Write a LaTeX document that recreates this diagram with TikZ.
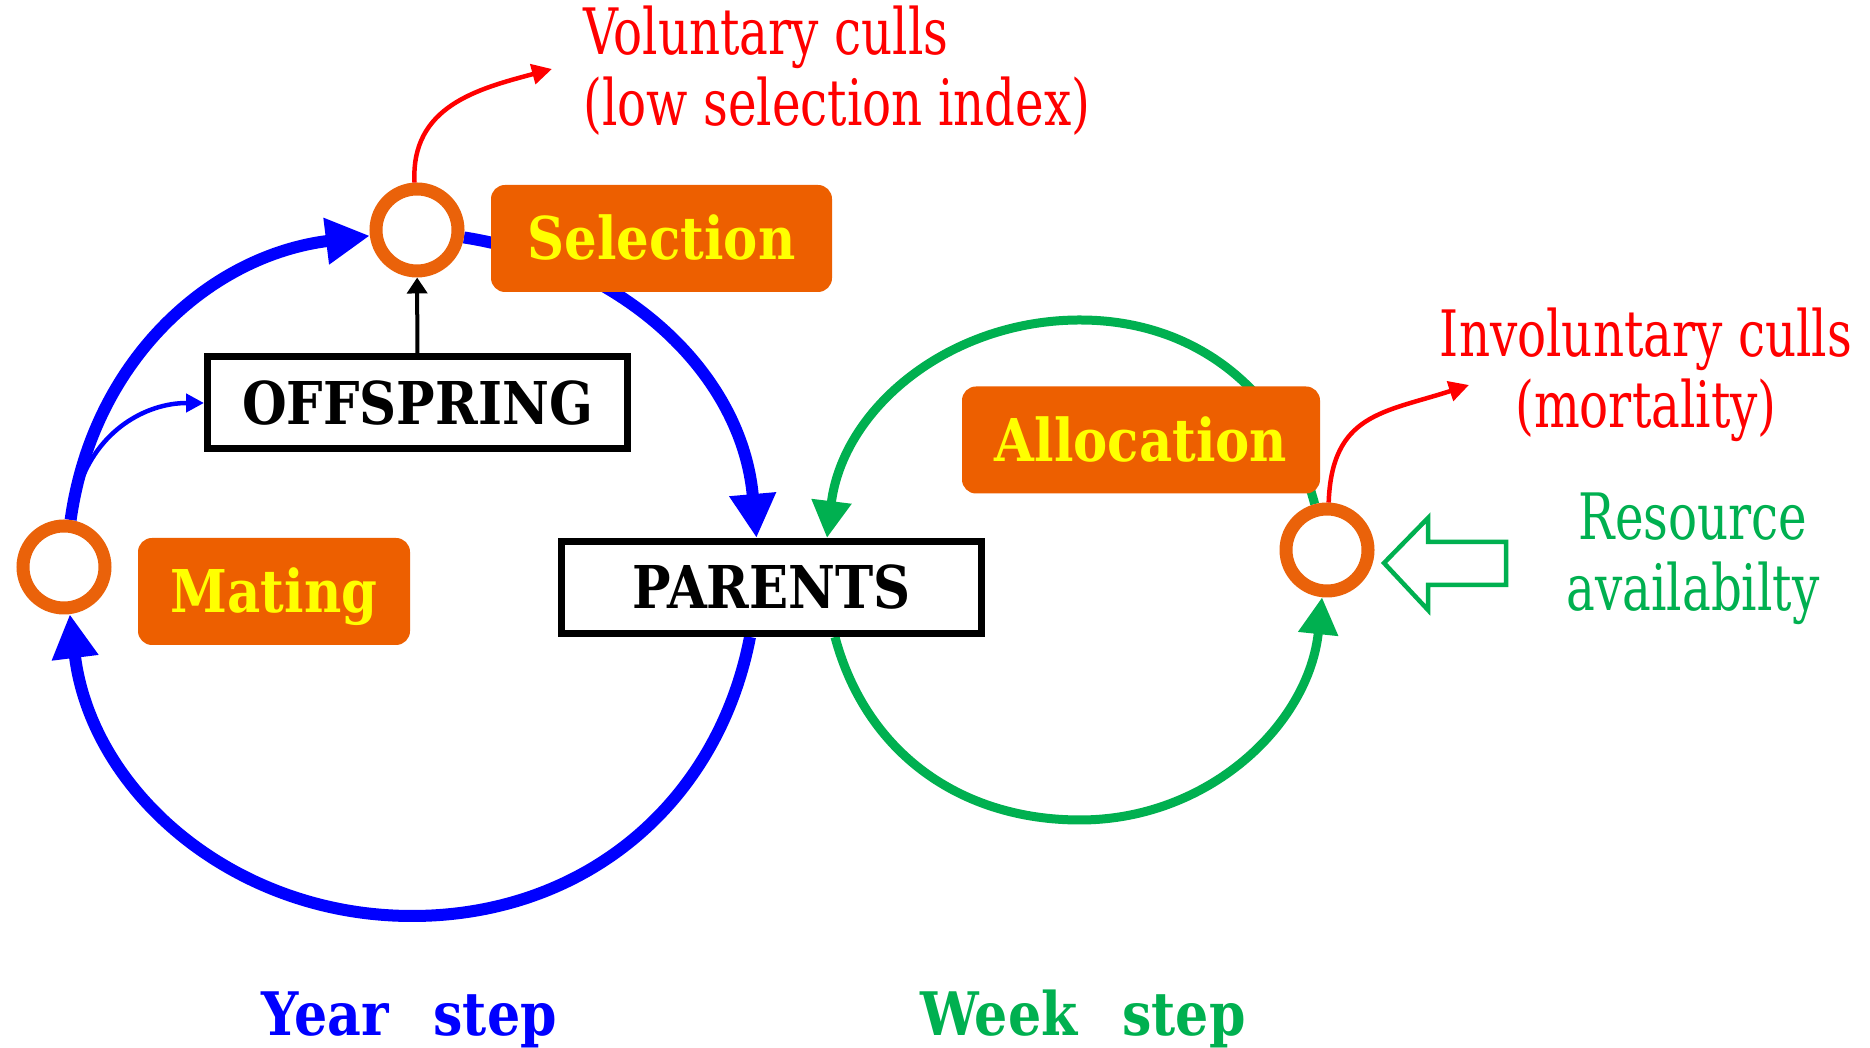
\documentclass[tikz,border=0pt]{standalone}
\usepackage{fontspec}
\usetikzlibrary{arrows.meta,backgrounds}
\newfontfamily\lblfont{DejaVu Serif}[FakeStretch=0.87]
\newfontfamily\cullfont{DejaVu Serif}[FakeStretch=0.755]
\definecolor{ybblue}{RGB}{0,0,255}
\definecolor{wkgreen}{RGB}{0,176,80}
\definecolor{boxorange}{RGB}{237,95,0}
\definecolor{ringorange}{RGB}{234,98,10}
\definecolor{cullred}{RGB}{255,0,0}
\definecolor{lblyellow}{RGB}{255,255,0}
\begin{document}
\begin{tikzpicture}[x=1pt,y=1pt,
  ring/.style={circle, draw=ringorange, line width=13pt, fill=white,
    minimum size=82pt, inner sep=0pt},
  stagebox/.style={rounded corners=14pt, fill=boxorange, text=lblyellow,
    font=\lblfont\bfseries\fontsize{59}{60}\selectfont,
    minimum height=107pt, inner sep=0pt, text height=43pt, text depth=0pt},
  poolbox/.style={draw=black, line width=7pt, fill=white,
    font=\lblfont\bfseries\fontsize{59}{60}\selectfont,
    minimum width=420pt, minimum height=92pt, inner sep=0pt,
    text height=43pt, text depth=0pt},
  culltext/.style={text=cullred, font=\cullfont\fontsize{64}{71}\selectfont,
    inner sep=0pt},
  steplabel/.style={font=\lblfont\bfseries\fontsize{60}{60}\selectfont,
    inner sep=0pt, anchor=base},
  yearflow/.style={draw=ybblue, line width=12pt,
    -{Triangle[length=44pt,width=44pt]}},
  weekflow/.style={draw=wkgreen, line width=9pt,
    -{Triangle[length=37pt,width=38pt]}},
  cullflow/.style={draw=cullred, line width=4.5pt,
    -{Triangle[length=20pt,width=20pt]}}
]
\useasboundingbox (0,0) rectangle (1870,1048);

% decision points on the two loops
\node[ring] (sel) at (417,818) {};
\node[ring] (mating) at (64,481) {};
\node[ring] (rc) at (1327,498) {};

% stocks
\node[poolbox] (parents) at (771.5,460.5) {PARENTS};
\node[poolbox] (offspring) at (417.5,645) {OFFSPRING};

% process labels
\node[stagebox, minimum width=341pt] (selbox) at (661.5,809.5) {Selection};
\node[stagebox, minimum width=272pt] (matebox) at (274,456.5) {Mating};
\node[stagebox, minimum width=358pt] (allocbox) at (1141,608) {Allocation};

% helper points on the loops
\coordinate (ybot) at (412,132);
\coordinate (split) at (79,561);
\coordinate (gtop) at (1080,728);
\coordinate (gbot) at (1080,228);
\coordinate (voltip) at (552,979);
\coordinate (invtip) at (1469,663);

\begin{scope}[on background layer]
  \fill[white] (0,0) rectangle (1870,1048);
  % year loop
  \draw[yearflow] (mating) to[out=82,in=187] (sel);
  \draw[yearflow] (sel) to[out=-9,in=95] ([xshift=-15pt]parents.north);
  \draw[yearflow] ([xshift=-21.5pt]parents.south) to[out=-101,in=0] (ybot)
    to[out=180,in=-83] (mating);
  % week loop
  \draw[weekflow] (rc) to[out=105,in=0] (gtop)
    to[out=180,in=83] ([xshift=55.5pt]parents.north);
  \draw[weekflow] ([xshift=63.5pt]parents.south) to[out=-75,in=180] (gbot)
    to[out=0,in=-96] (rc);
\end{scope}

% births into the offspring pool
\draw[draw=ybblue, line width=4.5pt, -{Triangle[length=18pt,width=18pt]}]
  (split) to[out=72,in=180] (offspring.west);
\draw[line width=4pt, -{Triangle[length=16pt,width=20pt]}] (offspring) -- (sel);

% culls
\draw[cullflow] (sel) to[out=93,in=195,looseness=1.1] (voltip);
\draw[cullflow] (rc) to[out=88,in=198,looseness=1.25] (invtip);

\node[culltext, anchor=base west, align=left] (vol) at (583,922)
  {Voluntary culls\\(low selection index)};
\node[culltext, anchor=base, align=center] (invol) at (1646,620)
  {Involuntary culls\\(mortality)};
\node[culltext, text=wkgreen, anchor=base, align=center] (res) at (1693,437)
  {Resource\\availabilty};

% resource input arrow
\draw[wkgreen, line width=4.5pt, line join=miter]
  (1384,485) -- (1428,530) -- (1428,506) -- (1506,506) -- (1506,463)
  -- (1428,463) -- (1428,438) -- cycle;

% time-step captions
\node[steplabel, text=ybblue] (yearcap) at (409,12) {Year\hspace{0.75em}step};
\node[steplabel, text=wkgreen] (weekcap) at (1083,12) {Week\hspace{0.75em}step};
\end{tikzpicture}
\end{document}
